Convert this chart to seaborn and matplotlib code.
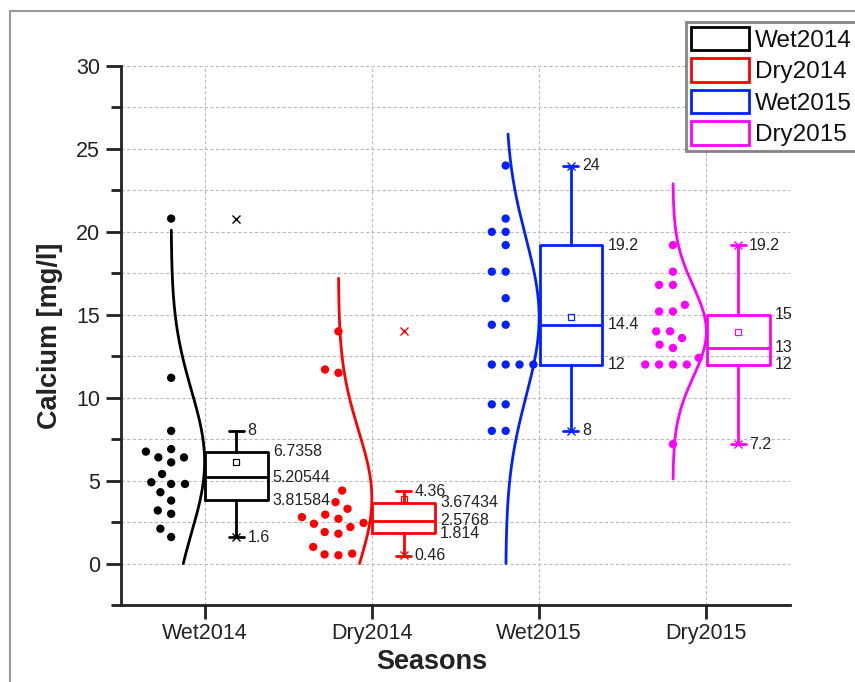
import numpy as np
import pandas as pd
import matplotlib
matplotlib.use("Agg")
import matplotlib.pyplot as plt
from matplotlib.patches import Patch, Rectangle
from matplotlib.ticker import MultipleLocator
import seaborn as sns

# ---- data -------------------------------------------------------------
seasons = ["Wet2014", "Dry2014", "Wet2015", "Dry2015"]
colors = ["#000000", "#ff0000", "#0022ff", "#ff00ff"]

wet2014 = [20.8, 11.2, 8.0, 6.75, 6.9, 6.4, 6.4, 6.1, 5.4, 4.8, 4.9, 4.8,
           4.3, 3.8, 3.0, 3.2, 2.1, 1.6]
dry2014 = [14.0, 11.7, 11.5, 4.4, 3.3, 3.7, 2.7, 2.8, 2.95, 2.45, 2.2, 1.9,
           2.4, 1.8, 1.0, 0.5, 0.55, 0.6]
wet2015 = [24.0, 20.8, 20.0, 20.0, 19.2, 17.6, 17.6, 16.0, 14.4, 14.4,
           12.0, 12.0, 12.0, 12.0, 9.6, 9.6, 8.0, 8.0]
dry2015 = [19.2, 17.6, 16.8, 16.8, 15.6, 15.2, 15.2, 14.0, 14.0, 13.6,
           13.2, 13.0, 12.4, 12.0, 12.0, 12.0, 12.0, 7.2]

# box statistics: lower whisker, Q1, median, Q3, upper whisker
whisker_lo = [1.6, 0.46, 8, 7.2]
q1 = [3.81584, 1.814, 12, 12]
median = [5.20544, 2.5768, 14.4, 13]
q3 = [6.7358, 3.67434, 19.2, 15]
whisker_hi = [8, 4.36, 24, 19.2]

# value range spanned by each fitted normal curve
curve_lo = [0.0, 0.0, 0.0, 5.1]
curve_hi = [20.1, 17.2, 25.9, 22.9]

groups = [wet2014, dry2014, wet2015, dry2015]

# ---- figure -----------------------------------------------------------
sns.set_theme(style="white")
plt.rcParams["font.family"] = ["Liberation Sans", "DejaVu Sans"]

fig = plt.figure(figsize=(8.55, 6.82), dpi=100)
ax = fig.add_axes([0.1415, 0.1129, 0.7825, 0.7903])

positions = np.arange(1, len(seasons) + 1)
swarm_off = -0.2      # centre of the dot column / baseline of the curve
curve_w = 0.2         # peak width of the normal curve
box_off = 0.19        # centre of the half box
box_w = 0.375

ax.set_xlim(0.5, 4.5)
ax.set_ylim(-2.5, 30)

# dots: lay the swarm out with a roomy marker, then draw smaller dots
frames = []
for p, name, vals in zip(positions, seasons, groups):
    frames.append(pd.DataFrame({"x": p + swarm_off, "value": vals, "season": name}))
df = pd.concat(frames, ignore_index=True)
n_before = len(ax.collections)
sns.swarmplot(data=df, x="x", y="value", hue="season", hue_order=seasons,
              palette=colors, native_scale=True, orient="x", size=9.5,
              linewidth=0, legend=False, ax=ax)
ax.set_xlim(0.5, 4.5)
ax.set_ylim(-2.5, 30)
fig.canvas.draw()
swarm_colls = ax.collections[n_before:]
for coll in list(swarm_colls):
    xy = np.asarray(coll.get_offsets())
    fc = coll.get_facecolors()
    coll.remove()
    if len(xy):
        ax.scatter(xy[:, 0], xy[:, 1], s=36, c=fc, linewidths=0, zorder=3)

# normal distribution curves
for i, (p, vals, c) in enumerate(zip(positions, groups, colors)):
    v = np.asarray(vals)
    mu, sd = v.mean(), v.std(ddof=1)
    yy = np.linspace(curve_lo[i], curve_hi[i], 300)
    dens = np.exp(-0.5 * ((yy - mu) / sd) ** 2)
    ax.plot(p + swarm_off + curve_w * dens, yy, color=c, lw=2, zorder=3)

# half boxes
stats = []
for i in range(len(seasons)):
    stats.append(dict(whislo=whisker_lo[i], q1=q1[i], med=median[i],
                      q3=q3[i], whishi=whisker_hi[i], fliers=[]))
bp = ax.bxp(stats, positions=positions + box_off, widths=box_w,
            capwidths=0.09, showfliers=False, manage_ticks=False,
            patch_artist=False)
for i, c in enumerate(colors):
    for art in (bp["boxes"][i], bp["medians"][i],
                bp["whiskers"][2 * i], bp["whiskers"][2 * i + 1],
                bp["caps"][2 * i], bp["caps"][2 * i + 1]):
        art.set_color(c)
        art.set_linewidth(2)
        art.set_zorder(4)

# mean squares and min/max crosses
for p, vals, c in zip(positions, groups, colors):
    v = np.asarray(vals)
    ax.plot(p + box_off, v.mean(), marker="s", ms=5, mfc="none", mec=c,
            mew=0.9, ls="none", zorder=5)
    ax.plot([p + box_off] * 2, [v.min(), v.max()], marker="x", ms=6,
            mec=c, mew=1.0, ls="none", zorder=5)

# value labels beside each box
lab_kw = dict(fontsize=11.5, color="#222222", va="center", ha="left", zorder=6)
for i, p in enumerate(positions):
    for val in (whisker_hi[i], whisker_lo[i]):
        ax.text(p + box_off + 0.065, val, f"{val:g}", **lab_kw)
    for val in (q3[i], median[i], q1[i]):
        ax.text(p + box_off + box_w / 2 + 0.03, val, f"{val:g}", **lab_kw)

# axes
ax.set_xlim(0.5, 4.5)
ax.set_ylim(-2.5, 30)
ax.set_xticks(positions)
ax.set_xticklabels(seasons)
ax.yaxis.set_major_locator(MultipleLocator(5))
ax.yaxis.set_minor_locator(MultipleLocator(2.5))
ax.set_yticks(np.arange(0, 31, 5))

ax.grid(True, which="both", axis="y", ls=(0, (3, 2)), lw=0.8, color="#bbbbbb", zorder=0)
ax.grid(True, which="major", axis="x", ls=(0, (3, 2)), lw=0.8, color="#bbbbbb", zorder=0)
ax.set_axisbelow(True)

for side in ("top", "right"):
    ax.spines[side].set_visible(False)
for side in ("left", "bottom"):
    ax.spines[side].set_linewidth(2)
    ax.spines[side].set_color("#222222")

ax.tick_params(axis="y", which="major", direction="out", length=11, width=2,
               color="#222222", labelsize=15.5, labelcolor="#222222", left=True, pad=4)
ax.tick_params(axis="y", which="minor", direction="out", length=7, width=2,
               color="#222222", left=True)
ax.tick_params(axis="x", which="major", direction="out", length=10, width=2,
               color="#222222", labelsize=15.5, labelcolor="#222222", bottom=True, pad=3)

ax.set_xlabel("Seasons", fontsize=19.5, fontweight="bold", color="#222222")
ax.set_ylabel("Calcium [mg/l]", fontsize=19.5, fontweight="bold", color="#222222")
ax.xaxis.set_label_coords(0.465, -0.082)
ax.yaxis.set_label_coords(-0.087, 0.5)

# legend
handles = [Patch(facecolor="white", edgecolor=c, linewidth=2, label=s)
           for s, c in zip(seasons, colors)]
leg = fig.legend(handles=handles, loc="upper left",
                 bbox_to_anchor=(686 / 855, 1 - 22 / 682), fontsize=17.5,
                 frameon=True, fancybox=False, borderpad=0.2,
                 handlelength=2.4, handleheight=1.1, labelspacing=0.27,
                 handletextpad=0.25, borderaxespad=0)
leg.get_frame().set_edgecolor("#666666")
leg.get_frame().set_linewidth(2)
for t in leg.get_texts():
    t.set_color("#111111")

# outer panel frame
fig.patches.append(Rectangle((10 / 855, -0.2), 1.2, 0.2 + 1 - 11 / 682,
                             transform=fig.transFigure, fill=False,
                             edgecolor="#999999", lw=1.5, zorder=-1))

fig.savefig("out.png", dpi=100)
